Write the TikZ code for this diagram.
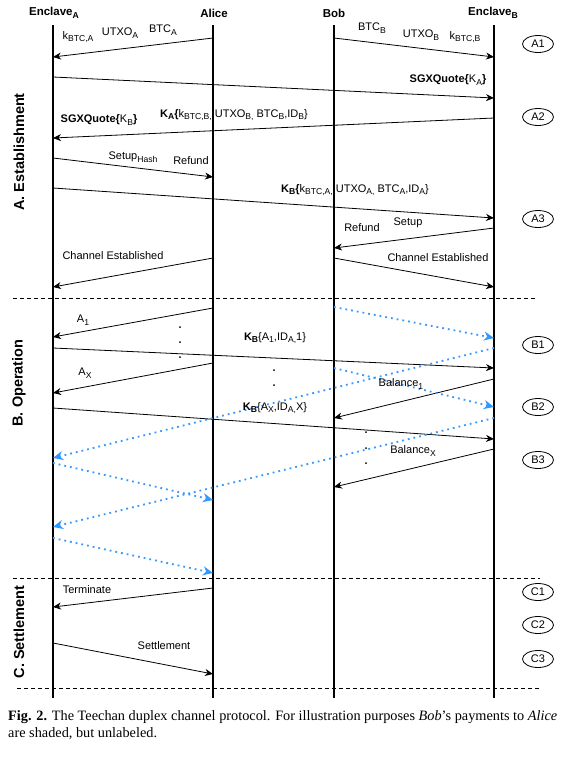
\documentclass[tikz,border=0pt]{standalone}
\usepackage{fontspec}
\setmainfont{Liberation Sans}
\newfontfamily\capfont{Liberation Serif}
\usetikzlibrary{shapes.geometric, arrows.meta}
\definecolor{payblue}{RGB}{51,153,255}
\newcommand{\subtxt}[1]{\raisebox{-2.6pt}{\fontsize{8.6}{9}\selectfont #1}}
\tikzstyle{lifeline} = [line width=1.6pt]
\tikzstyle{arrow} = [line width=0.8pt, -{Stealth[length=8pt, width=7pt, inset=2.5pt]}]
\tikzstyle{payment} = [payblue, line width=1.8pt, dash pattern=on 1.8pt off 4pt, -{Stealth[length=10pt, width=9pt, inset=3pt]}]
\tikzstyle{sep} = [line width=0.8pt, dash pattern=on 4pt off 3pt]
\tikzstyle{actor} = [font=\bfseries\fontsize{11.5}{13}\selectfont, inner sep=0pt]
\tikzstyle{phase} = [rotate=90, font=\bfseries\fontsize{14.5}{16}\selectfont, inner sep=0pt]
\tikzstyle{stepmark} = [ellipse, draw, line width=0.8pt, minimum width=31pt, minimum height=17pt, inner sep=0pt, font=\fontsize{11}{12}\selectfont]
\tikzstyle{lbl} = [font=\fontsize{11}{12}\selectfont, inner sep=0pt]

\begin{document}
\begin{tikzpicture}[x=1pt, y=-1pt]

    \useasboundingbox (0,0) rectangle (564,761);

    % actors and lifelines
    \node (encA) [actor] at (54,13) {Enclave\subtxt{A}};
    \node (alice) [actor] at (214,13) {Alice};
    \node (bob) [actor] at (334,13) {Bob};
    \node (encB) [actor] at (493,13) {Enclave\subtxt{B}};
    \foreach \n/\x in {encA/53, alice/213, bob/334, encB/494} {
        \coordinate (\n top) at (\x,25);
        \coordinate (\n bot) at (\x,698);
        \draw [lifeline] (\n top) -- (\n bot);
    }

    % phases
    \draw [sep] (13,298) -- (537,298);
    \draw [sep] (13,578) -- (540,578);
    \draw [sep] (17,688) -- (541,688);
    \node (phA) [phase] at (19,152) {A. Establishment};
    \node (phB) [phase] at (19,383) {B. Operation};
    \node (phC) [phase] at (19,632) {C. Settlement};

    \foreach \t/\y in {A1/44, A2/117, A3/219, B1/345, B2/407, B3/460, C1/592, C2/625, C3/659}
        \node (s\t) [stepmark] at (538,\y) {\t};

    % message end points
    \foreach \n/\x/\y in {m1s/213/38, m1e/53/57, m2s/334/38, m2e/494/57,
        m3s/53/77, m3e/494/98, m4s/494/118, m4e/53/138, m5s/53/158, m5e/213/177,
        m6s/53/188, m6e/494/218, m7s/494/228, m7e/334/248, m8s/213/258, m8e/53/287,
        m9s/334/258, m9e/494/287, m10s/213/308, m10e/53/337, m11s/53/348, m11e/494/368,
        m12s/213/363, m12e/53/393, m13s/494/379, m13e/334/418, m14s/53/408, m14e/494/439,
        m15s/494/449, m15e/334/487, m16s/213/588, m16e/53/607, m17s/53/643, m17e/213/674}
        \coordinate (\n) at (\x,\y);
    \foreach \n/\x/\y in {p1s/334/307, p1e/494/338, p2s/494/348, p2e/53/458,
        p3s/334/368, p3e/494/407, p4s/494/418, p4e/53/527,
        p5s/53/463, p5e/213/500, p6s/53/538, p6e/213/573}
        \coordinate (\n) at (\x,\y);

    \foreach \i in {1,...,17}
        \draw [arrow] (m\i s) -- (m\i e);
    \foreach \i in {1,...,6}
        \draw [payment] (p\i s) -- (p\i e);

    % labels
    \node (kA) [lbl] at (78,37) {k\subtxt{BTC,A}};
    \node (uA) [lbl] at (120,33) {UTXO\subtxt{A}};
    \node (bA) [lbl] at (163,30) {BTC\subtxt{A}};
    \node (bB) [lbl] at (372,28) {BTC\subtxt{B}};
    \node (uB) [lbl] at (421,35) {UTXO\subtxt{B}};
    \node (kB) [lbl] at (465,37) {k\subtxt{BTC,B}};
    \node (qA) [lbl] at (448,80) {\textbf{SGXQuote\{}K\subtxt{A}\textbf{\}}};
    \node (cB) [lbl] at (234,115) {\textbf{K\subtxt{A}\{}k\subtxt{BTC,B,} UTXO\subtxt{B,} BTC\subtxt{B},ID\subtxt{B}\}};
    \node (qB) [lbl] at (99,120) {\textbf{SGXQuote\{}K\subtxt{B}\textbf{\}}};
    \node (suA) [lbl] at (133,157) {Setup\subtxt{Hash}};
    \node (rfA) [lbl] at (191,161) {Refund};
    \node (cA) [lbl] at (355,190) {\textbf{K\subtxt{B}\{}k\subtxt{BTC,A,} UTXO\subtxt{A,} BTC\subtxt{A},ID\subtxt{A}\}};
    \node (rfB) [lbl] at (362,228) {Refund};
    \node (suB) [lbl] at (408,223) {Setup};
    \node (ceA) [lbl] at (113,256) {Channel Established};
    \node (ceB) [lbl] at (438,258) {Channel Established};
    \node (a1) [lbl] at (83,320) {A\subtxt{1}};
    \node (k1) [lbl] at (275,338) {\textbf{K\subtxt{B}}\{A\subtxt{1},ID\subtxt{A,}1\}};
    \node (ax) [lbl] at (85,373) {A\subtxt{X}};
    \node (bal1) [lbl] at (401,384) {Balance\subtxt{1}};
    \node (kx) [lbl] at (275,408) {\textbf{K\subtxt{B}}\{A\subtxt{X},ID\subtxt{A,}X\}};
    \node (balx) [lbl] at (413,451) {Balance\subtxt{X}};
    \node (term) [lbl] at (87,590) {Terminate};
    \node (sett) [lbl] at (164,646) {Settlement};

    % ellipsis dots
    \foreach \x/\y in {180/327, 180/342, 180/357, 274/370, 274/385, 366/432, 366/448, 366/463}
        \fill (\x,\y) circle (1pt);

    % caption
    \node (caption) [anchor=north west, align=left, inner sep=0pt, font=\capfont\fontsize{14.3}{17}\selectfont] at (8,710)
        {\textbf{Fig. 2.} The Teechan duplex channel protocol. For illustration purposes \textit{Bob}’s payments to \textit{Alice}\\ are shaded, but unlabeled.};

\end{tikzpicture}
\end{document}
